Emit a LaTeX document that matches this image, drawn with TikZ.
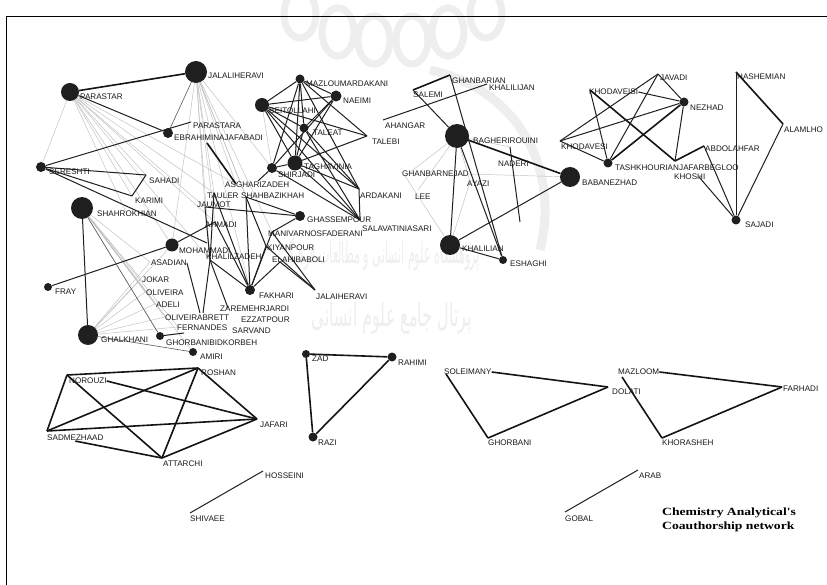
\documentclass[tikz,border=0pt]{standalone}
\usepackage{fontspec}
\setmainfont{Liberation Sans}
\newfontfamily\lblfont{Liberation Sans}
\newfontfamily\ttlfont{Liberation Serif}
\newfontfamily\arabicfont[Script=Arabic]{DejaVu Sans}
\TeXXeTstate=1
\pgfdeclarelayer{bg}
\pgfsetlayers{bg,main}
\newcommand\pers[7]{\node[dot,minimum size=#4pt] (#1) at (#2,#3) {};\node[lbl] (#1-t) at (#5,#6) {#7};}
\newcommand\plc[6]{\coordinate (#1) at (#2,#3);\node[lbl] (#1-t) at (#4,#5) {#6};}
\begin{document}
\begin{tikzpicture}[x=1pt,y=-1pt,
 dot/.style={circle,fill=black!88,inner sep=0pt},
 lbl/.style={anchor=west,inner sep=0pt,font=\lblfont\fontsize{8.1}{9}\selectfont,text=black!90},
 lng/.style={gray!50,line width=0.45pt},
 lnd/.style={black!65,line width=0.6pt},
 lnm/.style={black!88,line width=1pt},
 lnt/.style={black!92,line width=1.6pt},
 wm/.style={gray!13}]
\useasboundingbox (0,0) rectangle (827,585);
% ---------- top-left cluster
\pers{parastar}{70}{92}{18}{80}{97}{PARASTAR}
\pers{jalali}{196}{72}{22}{208}{76}{JALALIHERAVI}
\plc{parastara}{191}{122}{193}{126}{PARASTARA}
\pers{ebrahimi}{168}{133}{10}{174}{138}{EBRAHIMINAJAFABADI}
\pers{sereshti}{41}{167}{10}{49}{172}{SERESHTI}
\plc{sahadi}{146}{175}{149}{181}{SAHADI}
\plc{karimi}{132}{196}{135}{201}{KARIMI}
\pers{shahrokhian}{82}{208}{22}{97}{214}{SHAHROKHIAN}
\pers{ghalkhani}{88}{335}{20}{101}{340}{GHALKHANI}
\pers{fray}{48}{287}{8}{55}{292}{FRAY}
\pers{mohammadi}{172}{245}{13}{179}{251}{MOHAMMADI}
\plc{asadian}{150}{262}{151}{263}{ASADIAN}
\plc{jokar}{141}{279}{142}{280}{JOKAR}
\plc{oliveira}{145}{292}{146}{293}{OLIVEIRA}
\plc{adeli}{155}{304}{156}{305}{ADELI}
\plc{oliveirab}{165}{317}{165}{318}{OLIVEIRABRETT}
\plc{fernandes}{178}{327}{177}{328}{FERNANDES}
\plc{sarvand}{230}{330}{232}{331}{SARVAND}
\plc{zaremehr}{228}{308}{220}{309}{ZAREMEHRJARDI}
\plc{ezzat}{240}{319}{241}{320}{EZZATPOUR}
\pers{ghorbanib}{160}{336}{8}{166}{343}{GHORBANIBIDKORBEH}
\pers{amiri}{193}{352}{8}{200}{357}{AMIRI}
% ---------- central tangle
\plc{asghari}{236}{184}{225}{185}{ASGHARIZADEH}
\plc{tauler}{214}{193}{207}{196}{TAULER}
\plc{shahbazi}{246}{197}{241}{196}{SHAHBAZIKHAH}
\plc{jaumot}{205}{207}{197}{205}{JAUMOT}
\plc{ahmadi}{215}{222}{205}{225}{AHMADI}
\plc{khalilz}{210}{260}{206}{257}{KHALILZADEH}
\plc{manivar}{272}{232}{268}{234}{MANIVARNOSFADERANI}
\plc{kiyan}{266}{246}{267}{248}{KIYANPOUR}
\plc{elahi}{280}{262}{272}{260}{ELAHIBABOLI}
\pers{fakhari}{250}{290}{10}{259}{296}{FAKHARI}
\plc{jalaitwo}{315}{290}{316}{297}{JALAIHERAVI}
% ---------- middle cluster
\pers{beitollahi}{262}{105}{14}{269}{111}{BEITOLLAHI}
\pers{mazloum}{300}{79}{9}{306}{84}{MAZLOUMARDAKANI}
\pers{naeimi}{336}{96}{11}{343}{101}{NAEIMI}
\pers{taleat}{304}{128}{9}{313}{133}{TALEAT}
\plc{talebi}{367}{136}{372}{142}{TALEBI}
\pers{taghavinia}{295}{163}{15}{304}{167}{TAGHAVINIA}
\pers{shirjadi}{272}{168}{10}{278}{175}{SHIRJADI}
\plc{ardakani}{359}{189}{360}{196}{ARDAKANI}
\pers{ghassem}{300}{216}{10}{307}{220}{GHASSEMPOUR}
\plc{salavati}{360}{220}{362}{229}{SALAVATINIASARI}
% ---------- right-centre cluster
\plc{salemi}{413}{90}{413}{95}{SALEMI}
\plc{ghanbarian}{450}{75}{452}{81}{GHANBARIAN}
\plc{khalilijan}{487}{84}{489}{88}{KHALILIJAN}
\plc{ahangar}{383}{120}{385}{126}{AHANGAR}
\pers{bagheri}{457}{136}{24}{473}{141}{BAGHERIROUINI}
\plc{naderi}{510}{147}{498}{164}{NADERI}
\plc{ghanbarnejad}{405}{176}{402}{174}{GHANBARNEJAD}
\plc{ayazi}{470}{182}{467}{184}{AYAZI}
\plc{lee}{418}{190}{415}{197}{LEE}
\pers{babanezhad}{570}{177}{20}{582}{183}{BABANEZHAD}
\pers{khalilian}{450}{245}{20}{462}{249}{KHALILIAN}
\pers{eshaghi}{503}{260}{8}{510}{264}{ESHAGHI}
% ---------- far right
\plc{khodaveisi}{590}{90}{589}{92}{KHODAVEISI}
\plc{javadi}{658}{74}{660}{78}{JAVADI}
\pers{nezhad}{684}{102}{9}{690}{108}{NEZHAD}
\plc{khodavesi}{560}{141}{561}{147}{KHODAVESI}
\pers{tashkhourian}{608}{163}{9}{615}{168}{TASHKHOURIAN}
\plc{jafarbegloo}{675}{161}{679}{168}{JAFARBEGLOO}
\plc{abdolahfar}{704}{146}{705}{149}{ABDOLAHFAR}
\plc{khoshi}{699}{177}{674}{177}{KHOSHI}
\pers{sajadi}{736}{220}{9}{745}{225}{SAJADI}
\plc{hashemian}{736}{72}{737}{77}{HASHEMIAN}
\plc{alamlho}{783}{124}{784}{130}{ALAMLHO}
% ---------- bottom components
\plc{norouzi}{67}{375}{69}{381}{NOROUZI}
\plc{roshan}{198}{368}{201}{373}{ROSHAN}
\plc{jafari}{257}{419}{260}{425}{JAFARI}
\plc{sadmezh}{47}{431}{47}{438}{SADMEZHAAD}
\plc{attarchi}{162}{458}{163}{464}{ATTARCHI}
\plc{hosseini}{263}{471}{265}{476}{HOSSEINI}
\plc{shivaee}{190}{513}{190}{519}{SHIVAEE}
\pers{zad}{306}{354}{8}{312}{359}{ZAD}
\pers{rahimi}{392}{357}{9}{398}{363}{RAHIMI}
\pers{razi}{313}{437}{9}{318}{443}{RAZI}
\plc{soleimany}{446}{374}{444}{372}{SOLEIMANY}
\plc{dolati}{608}{387}{612}{392}{DOLATI}
\plc{ghorbani}{488}{438}{488}{443}{GHORBANI}
\plc{mazloom}{622}{377}{618}{372}{MAZLOOM}
\plc{farhadi}{782}{387}{783}{389}{FARHADI}
\plc{khorasheh}{662}{438}{662}{443}{KHORASHEH}
\plc{arab}{638}{470}{639}{476}{ARAB}
\plc{gobal}{565}{512}{565}{519}{GOBAL}
\node[anchor=west,inner sep=0pt,align=left,font=\ttlfont\bfseries\fontsize{11}{14}\selectfont] (title) at (662,520)
 {\scalebox{1.24}[1]{Chemistry Analytical's}\\\scalebox{1.24}[1]{Coauthorship network}};
% extra line ends
\coordinate (mohx) at (207,243);
\coordinate (ebx) at (207,143);
\coordinate (olbx) at (203,313);
\coordinate (ferx) at (200,313);
\coordinate (ghbx) at (184,333);
\coordinate (shx) at (258,181);
\coordinate (nadx) at (520,222);
\begin{pgfonlayer}{bg}
\fill[white] (0,0) rectangle (827,585);
% watermark
\begin{scope}[wm]
\foreach \cx/\cy in {300/14,338/32,374/40,412/40,448/32,486/14}
  \draw[line width=7pt] (\cx,\cy) ellipse [x radius=16, y radius=24];
\draw[line width=9pt] (430,70) .. controls (520,90) and (560,170) .. (540,250);
\node[inner sep=0pt] (wmone) at (380,254) {\resizebox{200pt}{26pt}{\arabicfont\beginR پژوهشگاه علوم انسانی و مطالعات فرهنگی\endR}};
\node[inner sep=0pt] (wmtwo) at (392,318) {\resizebox{160pt}{24pt}{\arabicfont\beginR پرتال جامع علوم انسانی\endR}};
\end{scope}
\draw[line width=0.9pt] (6,585) -- (6,16) -- (827,16);
% gray fans
\foreach \b in {asghari,tauler,jaumot,ahmadi,khalilz,fakhari,shahbazi,kiyan,shirjadi,manivar,mohammadi}
  \draw[lng] (jalali) -- (\b);
\foreach \b in {sereshti,karimi,sahadi,jaumot,ahmadi,asghari,tauler,mohammadi,khalilz,shahrokhian-t}
  \draw[lng] (parastar) -- (\b);
\foreach \b in {asadian,jokar,oliveira,adeli,oliveirab,fernandes,ghorbanib,amiri}
  \draw[lng] (shahrokhian) -- (\b);
\foreach \b in {asadian,jokar,oliveira,adeli,oliveirab,fernandes,mohammadi}
  \draw[lng] (ghalkhani) -- (\b);
\foreach \b in {ayazi,naderi,lee,ghanbarnejad}
  \draw[lng] (bagheri) -- (\b);
\draw[lng] (ghanbarnejad-t.east) -- (babanezhad);
\draw[lng] (ghanbarnejad) -- (khalilian);
\draw[lng] (ayazi) -- (khalilian);
\draw[lng] (beitollahi) -- (shirjadi);
% top-left black
\draw[lnt] (parastar) -- (jalali);
\draw[lnm] (parastar) -- (ebrahimi);
\draw[lnd] (jalali) -- (ebrahimi);
\foreach \a/\b in {sereshti/parastara,sereshti/sahadi,sahadi/karimi,sereshti/karimi,sereshti/mohx}
  \draw[lnm] (\a) -- (\b);
\draw[lnt] (ebx) -- (asghari);
\draw[lnm] (shahrokhian) -- (ghalkhani);
\draw[lnm] (fray) -- (mohammadi);
\draw[lnd] (ghalkhani) -- (amiri);
\draw[lnd] (shahrokhian) -- (ghorbanib);
\draw[lnm] (ghorbanib) -- (ghbx);
% central black
\foreach \a/\b in {jaumot/khalilz,khalilz/olbx,khalilz/zaremehr,asadian-t.east/ferx,tauler/fakhari,shahbazi/fakhari,
  shahbazi/kiyan,kiyan/fakhari,elahi/fakhari,khalilz/fakhari,ahmadi/fakhari,manivar/fakhari,jaumot/ghassem,
  ghassem/shahbazi,ghassem/manivar,elahi/jalaitwo,kiyan/jalaitwo,manivar/jalaitwo,shirjadi/shx,tauler/khalilz,ahmadi/mohammadi}
  \draw[lnm] (\a) -- (\b);
% middle cluster
\foreach \a/\b in {beitollahi/mazloum,beitollahi/naeimi,beitollahi/taleat,beitollahi/taghavinia,beitollahi/talebi,
  beitollahi/ardakani,beitollahi/salavati,mazloum/naeimi,mazloum/taleat,mazloum/taghavinia,mazloum/talebi,
  mazloum/ardakani,naeimi/taleat,naeimi/taghavinia,naeimi/shirjadi,taleat/taghavinia,taleat/salavati,
  taleat/ardakani,taghavinia/talebi,taghavinia/ardakani,taghavinia/salavati,shirjadi/salavati,
  shirjadi/taghavinia,ardakani/salavati,shirjadi/mazloum}
  \draw[lnm] (\a) -- (\b);
% right-centre
\draw[lnt] (salemi) -- (ghanbarian);
\draw[lnt] (bagheri) -- (babanezhad);
\foreach \a/\b in {ahangar/khalilijan,salemi/bagheri,ghanbarian/eshaghi,bagheri/khalilian,babanezhad/khalilian,
  khalilian/eshaghi,bagheri/eshaghi,naderi/nadx}
  \draw[lnm] (\a) -- (\b);
% far right
\draw[lnt] (khodaveisi) -- (jafarbegloo);
\draw[lnt] (nezhad) -- (tashkhourian);
\draw[lnt] (abdolahfar) -- (jafarbegloo);
\draw[lnt] (hashemian) -- (alamlho);
\foreach \a/\b in {khodaveisi/tashkhourian,khodaveisi-t.east/nezhad,javadi/nezhad,javadi/tashkhourian,javadi/khodavesi,
  nezhad/khodavesi,nezhad/jafarbegloo,khodavesi/tashkhourian,abdolahfar/sajadi,khoshi/sajadi,hashemian/sajadi,alamlho/sajadi}
  \draw[lnm] (\a) -- (\b);
% bottom
\foreach \a/\b in {norouzi/roshan,norouzi/sadmezh,roshan/sadmezh,roshan/attarchi,roshan/jafari,norouzi-t.east/jafari,
  norouzi/attarchi,sadmezh-t.south/attarchi,sadmezh/jafari,attarchi/jafari}
  \draw[lnt] (\a) -- (\b);
\draw[lnm] (hosseini) -- (shivaee);
\draw[lnm] (arab) -- (gobal);
\foreach \a/\b in {zad/rahimi,zad/razi,rahimi/razi}
  \draw[lnt] (\a) -- (\b);
\foreach \a/\b in {soleimany-t.east/dolati,soleimany/ghorbani,dolati/ghorbani,mazloom-t.east/farhadi,mazloom/khorasheh,khorasheh/farhadi}
  \draw[lnt] (\a) -- (\b);
\end{pgfonlayer}
\end{tikzpicture}
\end{document}
